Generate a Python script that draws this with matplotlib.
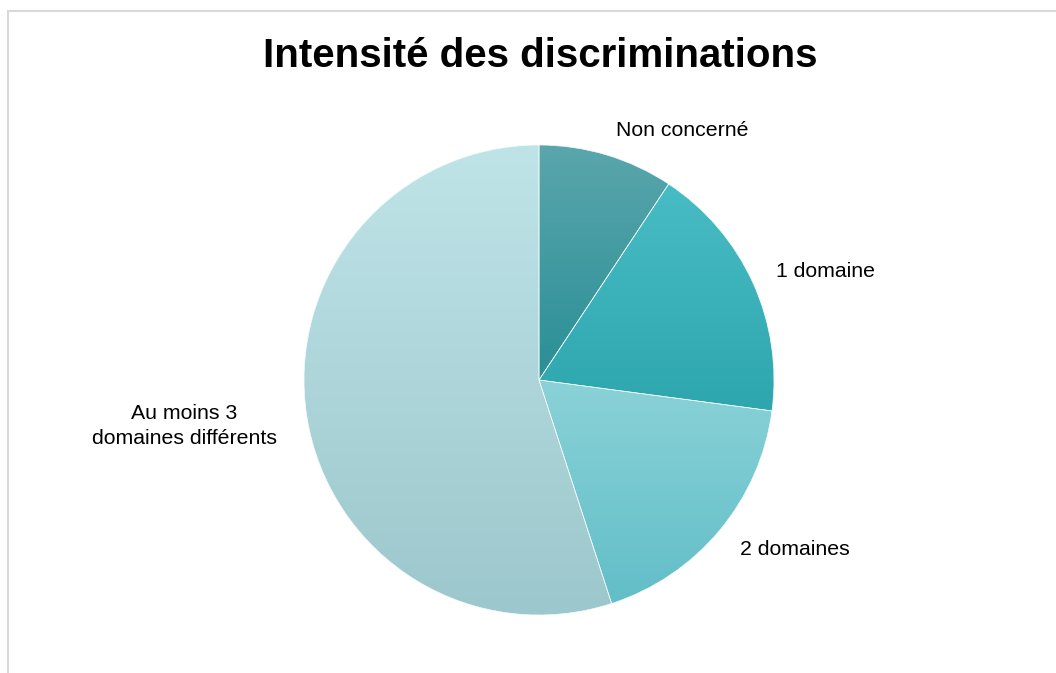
import numpy as np
import matplotlib.pyplot as plt
from matplotlib.colors import LinearSegmentedColormap
from matplotlib.patches import Rectangle

plt.rcParams['font.family'] = ['Liberation Sans', 'DejaVu Sans']

labels = ['Non concerné', '1 domaine', '2 domaines', 'Au moins 3\ndomaines différents']
values = [9.3, 17.8, 17.9, 55.0]
# top / bottom colour of each slice gradient
top_colors = ['#5aa6ac', '#48bcc4', '#8ad2d7', '#bfe4e8']
bottom_colors = ['#2a8f96', '#2ea6ae', '#62bec8', '#9cc7cc']

fig = plt.figure(figsize=(10.56, 6.73), dpi=100)
fig.patches.append(Rectangle((8 / 1056, -0.1), 1.2, (673 - 11) / 673 + 0.1,
                             transform=fig.transFigure, fill=False,
                             edgecolor='#d9d9d9', linewidth=1.5))

ax = fig.add_axes([304 / 1056, 58 / 673, 470 / 1056, 470 / 673])
wedges, _ = ax.pie(values, startangle=90, counterclock=False, radius=1,
                   wedgeprops=dict(linewidth=0.5, edgecolor='#f4fafa'))
ax.set_aspect('equal')
ax.axis('off')

# vertical gradient for each slice, clipped to the wedge
grad = np.linspace(0, 1, 256).reshape(-1, 1)
for w, c0, c1 in zip(wedges, top_colors, bottom_colors):
    ext = w.get_path().get_extents()
    cmap = LinearSegmentedColormap.from_list('g', [c0, c1])
    w.set_facecolor('none')
    im = ax.imshow(grad, cmap=cmap, aspect='auto', origin='upper',
                   extent=[ext.x0, ext.x1, ext.y0, ext.y1], zorder=1)
    im.set_clip_path(w)
    w.set_zorder(2)

ax.set_xlim(-1, 1)
ax.set_ylim(-1, 1)

# labels outside the pie
label_pos = [(0.61, 1.06), (1.22, 0.46), (1.09, -0.72), (-1.51, -0.195)]
for lab, (x, y) in zip(labels, label_pos):
    ax.text(x, y, lab, ha='center', va='center', fontsize=15.3,
            linespacing=1.4, color='black')

fig.text(540 / 1056, 1 - 56 / 673, 'Intensité des discriminations',
         ha='center', va='center', fontsize=29, fontweight='bold')

fig.savefig('out.png', dpi=100)
